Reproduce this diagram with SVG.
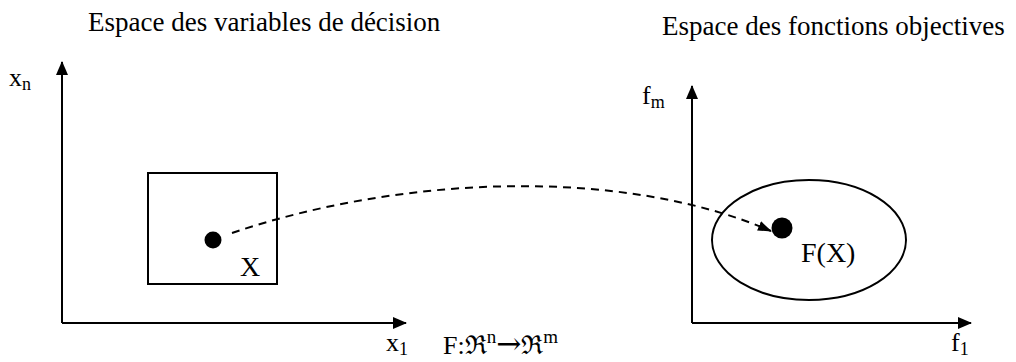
<svg xmlns="http://www.w3.org/2000/svg" width="1016" height="362" viewBox="0 0 1016 362">
<style>
text{font-family:"Liberation Serif","Times New Roman",serif;fill:#000;font-size:26px}
.title{font-size:27px}
.big{font-size:28px}
.ax{stroke:#000;stroke-width:2;fill:none}
.sub{font-size:18px}
</style>
<defs>
<marker id="ah" viewBox="0 0 14 12" refX="13" refY="6" markerWidth="14" markerHeight="12" markerUnits="userSpaceOnUse" orient="auto"><path d="M0,0L14,6L0,12z" fill="#000"/></marker>
<marker id="dh" viewBox="0 0 14 10" refX="13" refY="5" markerWidth="14" markerHeight="10" markerUnits="userSpaceOnUse" orient="auto"><path d="M0,0L14,5L0,10z" fill="#000"/></marker>
</defs>
<rect width="1016" height="362" fill="#fff"/>
<g id="titles">
<text class="title" x="88" y="31">Espace des variables de décision</text>
<text class="title" x="662" y="35">Espace des fonctions objectives</text>
</g>
<g id="axes-left">
<line class="ax" x1="62" y1="323" x2="62" y2="62" marker-end="url(#ah)"/>
<line class="ax" x1="62" y1="323" x2="406" y2="323" marker-end="url(#ah)"/>
<text x="9" y="86">x<tspan class="sub" dy="4">n</tspan></text>
<text x="386" y="351">x<tspan class="sub" dy="4">1</tspan></text>
</g>
<g id="axes-right">
<line class="ax" x1="692" y1="323" x2="692" y2="86" marker-end="url(#ah)"/>
<line class="ax" x1="692" y1="323" x2="971" y2="323" marker-end="url(#ah)"/>
<text x="642" y="104">f<tspan class="sub" dy="4">m</tspan></text>
<text x="951" y="351">f<tspan class="sub" dy="4">1</tspan></text>
</g>
<g id="node-X">
<rect x="148" y="173" width="129" height="111" fill="none" stroke="#000" stroke-width="2"/>
<circle cx="213" cy="240" r="8.5"/>
<text class="big" x="240" y="276">X</text>
</g>
<g id="node-FX">
<ellipse cx="809" cy="240" rx="97" ry="60" fill="none" stroke="#000" stroke-width="2"/>
<circle cx="782" cy="228" r="10.5"/>
<text class="big" x="801" y="262">F(X)</text>
</g>
<g id="connectors">
<path d="M232,233 C400,176 620,166 771,231" fill="none" stroke="#000" stroke-width="2" stroke-dasharray="8,6" marker-end="url(#dh)"/>
</g>
<g id="mapping">
<text x="443" y="354" font-size="28">F:ℜ<tspan font-size="19" dy="-11">n</tspan><tspan dy="11" font-family="DejaVu Serif" font-size="30">→</tspan><tspan>ℜ</tspan><tspan font-size="19" dy="-11">m</tspan></text>
</g>
</svg>
